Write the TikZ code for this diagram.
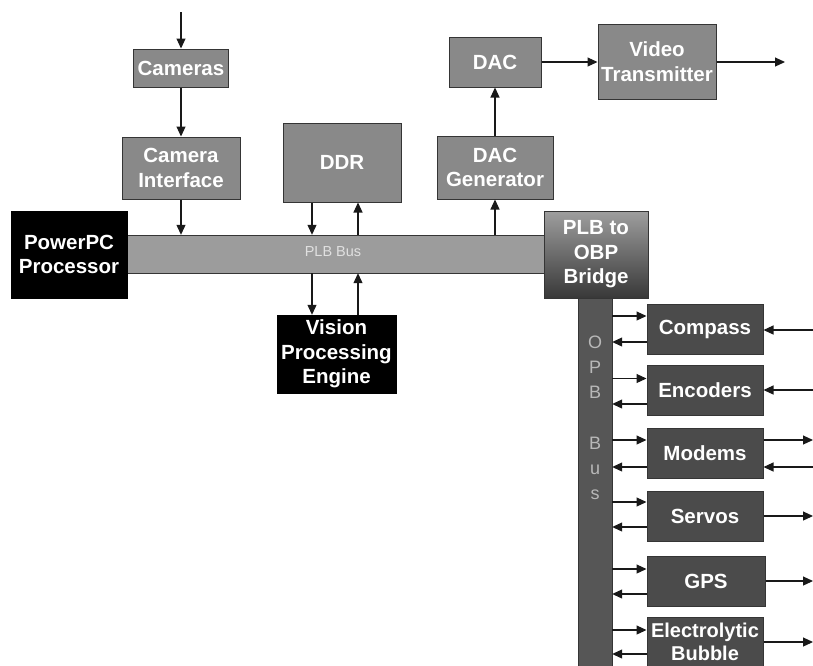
\documentclass[tikz,border=0pt]{standalone}
\usepackage{fontspec}
\setmainfont{Liberation Sans}
\usetikzlibrary{arrows.meta}
\definecolor{midgray}{HTML}{898989}
\definecolor{busgray}{HTML}{9C9C9C}
\definecolor{darkbox}{HTML}{4B4B4B}
\definecolor{opbgray}{HTML}{565656}
\definecolor{edgegray}{HTML}{353535}
\begin{document}
\begin{tikzpicture}[x=1pt,y=-1pt,
  lbl/.style={font=\fontsize{20.5}{24.5}\selectfont\bfseries, text=white, align=center, inner sep=0pt},
  graybox/.style={lbl, draw=edgegray, line width=1pt, fill=midgray},
  blackbox/.style={lbl, draw=black, fill=black},
  darkbx/.style={lbl, draw=edgegray, line width=1pt, fill=darkbox, minimum width=116pt, minimum height=50pt},
  arr/.style={draw=black!90, line width=1.1pt, -{Triangle[length=10pt,width=9pt]}}]
\useasboundingbox (0,0) rectangle (813,665);
% OPB bus
\node[draw=edgegray, fill=opbgray, minimum width=34pt, minimum height=380pt, inner sep=0pt] (opb) at (595,485) {};
\node[font=\fontsize{18}{25}\selectfont, text=black!28, align=center, inner sep=0pt] (opbtxt) at (595,418) {O\\P\\B\\[26pt]B\\u\\s};
% PLB bus
\node[draw=edgegray, fill=busgray, minimum width=418pt, minimum height=38pt, inner sep=0pt] (bus) at (336,254) {};
\node[font=\fontsize{14.5}{16}\selectfont, text=black!12, inner sep=0pt] (bustxt) at (333,252) {PLB Bus};
% boxes
\node[graybox, minimum width=95pt, minimum height=38pt] (cam) at (181,68) {Cameras};
\node[graybox, minimum width=118pt, minimum height=62pt] (camif) at (181,168) {Camera\\Interface};
\node[graybox, minimum width=118pt, minimum height=79pt] (ddr) at (342,162.5) {DDR};
\node[blackbox, minimum width=116pt, minimum height=87pt] (ppc) at (69,254.5) {PowerPC\\Processor};
\node[blackbox, minimum width=119pt, minimum height=78pt] (vpe) at (336.5,354) {Vision\\Processing\\Engine};
\node[graybox, minimum width=92pt, minimum height=50pt] (dac) at (495,62) {DAC};
\node[graybox, minimum width=118pt, minimum height=75pt] (vt) at (657,61.5) {Video\\Transmitter};
\node[graybox, minimum width=116pt, minimum height=63pt] (dacgen) at (495,167.5) {DAC\\Generator};
\node[lbl, draw=edgegray, line width=1pt, top color=black!38, bottom color=black!78, minimum width=104pt, minimum height=87pt] (bridge) at (596,254.5) {PLB to\\OBP\\Bridge};
\node[darkbx] (comp) at (705,329) {Compass};
\node[darkbx] (enc) at (705,390.5) {Encoders};
\node[darkbx] (mod) at (705,453) {Modems};
\node[darkbx] (serv) at (705,516) {Servos};
\node[darkbx, minimum width=118pt] (gps) at (706,581.5) {GPS};
\node[darkbx, font=\fontsize{20}{23}\selectfont\bfseries] (eb) at (705,642) {Electrolytic\\Bubble};
% top chain
\coordinate (camin) at (181,12);
\draw[arr] (camin) -- (cam.north);
\draw[arr] (cam.south) -- (camif.north);
\draw[arr] (camif.south) -- (camif.south |- bus.north);
% DDR
\coordinate (ddrl) at ([xshift=-30pt]ddr.south);
\coordinate (ddrr) at ([xshift=16pt]ddr.south);
\draw[arr] (ddrl) -- (ddrl |- bus.north);
\draw[arr] (ddrr |- bus.north) -- (ddrr);
% VPE
\draw[arr] (ddrl |- bus.south) -- (ddrl |- vpe.north);
\draw[arr] (ddrr |- vpe.north) -- (ddrr |- bus.south);
% DAC chain
\draw[arr] (dacgen.south |- bus.north) -- (dacgen.south);
\draw[arr] (dacgen.north) -- (dac.south);
\draw[arr] (dac.east) -- (dac.east -| vt.west);
\coordinate (vtout) at (785,62);
\draw[arr] (vt.east |- vtout) -- (vtout);
% OPB peripherals
\foreach \b/\u/\d in {comp/13/13, enc/12/13.5, mod/13/14, serv/14/11, gps/12.5/12.5, eb/12/12}{
  \coordinate (\b u) at ([yshift=\u pt]\b.west);
  \coordinate (\b d) at ([yshift=-\d pt]\b.west);
  \draw[arr] (\b u -| opb.east) -- (\b u);
  \draw[arr] (\b d) -- (\b d -| opb.east);
}
% right side
\coordinate (compin) at (813,330);
\draw[arr] (compin) -- (compin -| comp.east);
\coordinate (encin) at (813,390);
\draw[arr] (encin) -- (encin -| enc.east);
\coordinate (modout) at (813,440);
\draw[arr] (modout -| mod.east) -- (modout);
\coordinate (modin) at (813,467);
\draw[arr] (modin) -- (modin -| mod.east);
\coordinate (servout) at (813,516);
\draw[arr] (serv.east) -- (servout);
\coordinate (gpsout) at (813,581);
\draw[arr] (gps.east |- gpsout) -- (gpsout);
\coordinate (ebout) at (813,642);
\draw[arr] (eb.east) -- (ebout);
\end{tikzpicture}
\end{document}
